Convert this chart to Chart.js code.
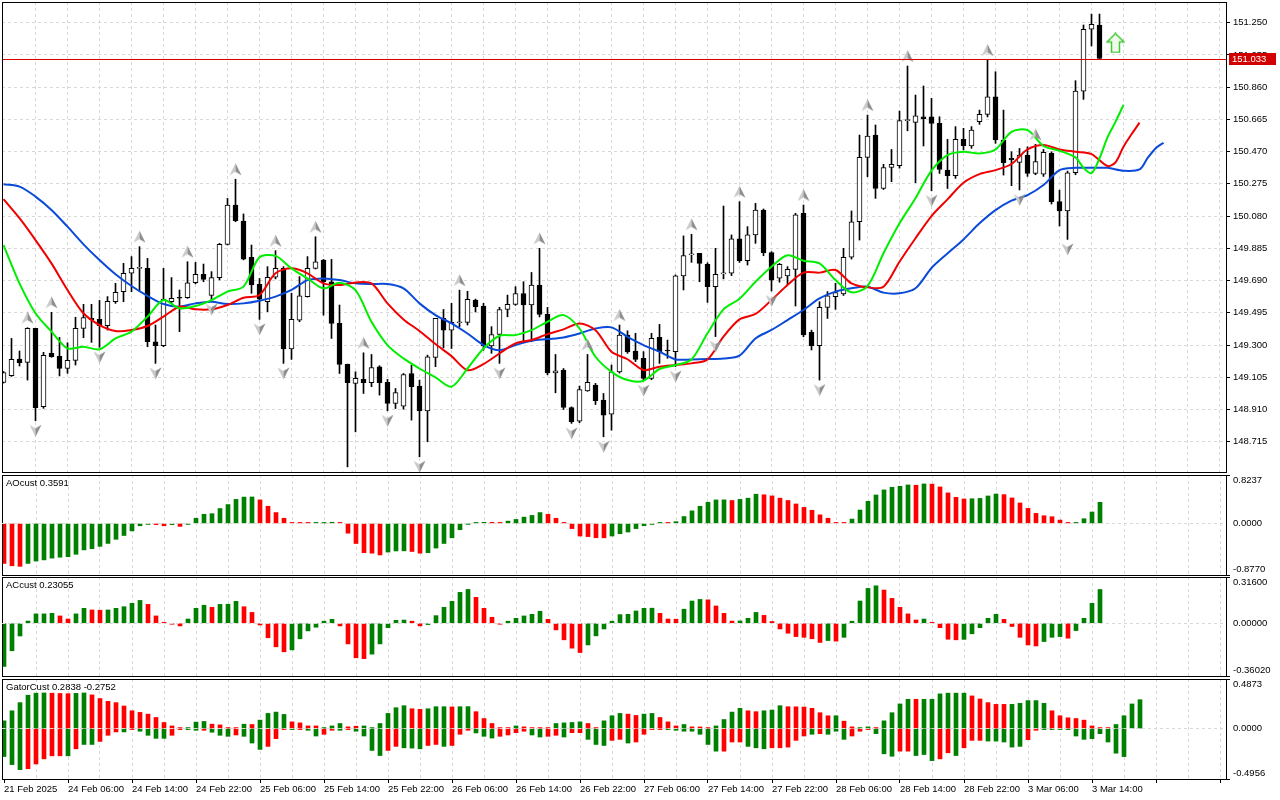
<!DOCTYPE html>
<html>
<head>
<meta charset="utf-8">
<script src="https://cdn.jsdelivr.net/npm/chart.js@4.4.1/dist/chart.umd.min.js"></script>
<style>
html, body { margin: 0; padding: 0; background: #fff; }
#wrap { position: relative; width: 1280px; height: 800px; overflow: hidden; background: #fff; }
#wrap canvas { position: absolute; left: 0; }
</style>
</head>
<body>
<div id="wrap">
  <canvas id="main" width="1280" height="473" style="top:0px"></canvas>
  <canvas id="ao" width="1280" height="103" style="top:473px"></canvas>
  <canvas id="ac" width="1280" height="102" style="top:576px"></canvas>
  <canvas id="gator" width="1280" height="123" style="top:677px"></canvas>
</div>
<script>
// ---- data (H1 bars, index 0 = 21 Feb 22:00) ----
const timeLabels = ['21 Feb 2025', '24 Feb 06:00', '24 Feb 14:00', '24 Feb 22:00', '25 Feb 06:00',
  '25 Feb 14:00', '25 Feb 22:00', '26 Feb 06:00', '26 Feb 14:00', '26 Feb 22:00', '27 Feb 06:00',
  '27 Feb 14:00', '27 Feb 22:00', '28 Feb 06:00', '28 Feb 14:00', '28 Feb 22:00', '3 Mar 06:00', '3 Mar 14:00'];

const priceTicks = [148.715, 148.910, 149.105, 149.300, 149.495, 149.690, 149.885,
  150.080, 150.275, 150.470, 150.665, 150.860, 151.055, 151.250];
const lastPrice = 151.033;

const opens = [149.074,149.115,149.215,149.195,149.401,148.927,149.250,149.232,149.159,149.207,
  149.401,149.461,149.455,149.417,149.562,149.623,149.734,149.764,149.764,149.320,
  149.296,149.562,149.587,149.587,149.677,149.728,149.600,149.708,149.909,150.147,
  150.050,149.830,149.667,149.562,149.710,149.764,149.276,149.451,149.593,149.764,
  149.814,149.683,149.431,149.183,149.068,149.092,149.072,149.168,149.074,148.947,
  148.930,149.128,149.052,148.902,149.225,149.461,149.390,149.435,149.437,149.572,
  149.536,149.294,149.364,149.515,149.546,149.612,149.542,149.663,149.485,149.132,
  149.148,148.922,148.840,149.023,149.058,148.967,148.882,149.138,149.360,149.264,
  149.219,149.098,149.347,149.266,149.260,149.718,149.845,149.855,149.788,149.653,
  149.730,149.734,149.942,149.810,149.966,150.117,149.859,149.704,149.718,149.758,
  150.097,149.377,149.296,149.528,149.592,149.609,149.831,150.046,150.435,150.570,
  150.247,150.374,150.385,150.657,150.647,150.681,150.681,150.641,150.358,150.324,
  150.544,150.504,150.651,150.695,150.802,150.540,150.430,150.405,150.449,150.338,
  150.334,150.459,150.167,150.112,150.342,150.836,151.210,151.236];
const highs = [149.140,149.340,149.264,149.405,149.401,149.256,149.498,149.346,149.314,149.468,
  149.546,149.546,149.570,149.593,149.673,149.794,149.835,149.895,149.824,149.421,
  149.764,149.708,149.633,149.804,149.800,149.790,149.744,149.915,150.187,150.303,
  150.093,149.905,149.703,149.774,149.871,149.774,149.613,149.714,149.835,149.955,
  149.818,149.818,149.542,149.185,149.138,149.253,149.243,149.175,149.092,149.037,
  149.128,149.179,149.088,149.239,149.461,149.515,149.552,149.632,149.625,149.578,
  149.552,149.411,149.528,149.602,149.653,149.683,149.739,149.885,149.528,149.243,
  149.158,148.926,149.052,149.243,149.068,149.007,149.179,149.421,149.386,149.371,
  149.260,149.371,149.425,149.330,149.724,149.960,149.970,149.855,149.798,149.885,
  150.141,149.966,150.167,150.016,150.157,150.123,149.865,149.794,149.774,150.097,
  150.147,149.390,149.562,149.623,149.673,149.885,150.111,150.570,150.691,150.631,
  150.393,150.483,150.715,150.988,150.812,150.867,150.792,150.681,150.544,150.621,
  150.611,150.621,150.721,151.024,150.953,150.721,150.469,150.489,150.499,150.514,
  150.483,150.469,150.237,150.352,150.899,151.236,151.302,151.302];
const lows = [149.070,149.110,149.173,149.088,148.842,148.917,149.226,149.113,149.129,149.179,
  149.344,149.316,149.286,149.391,149.552,149.562,149.623,149.623,149.290,149.189,
  149.290,149.552,149.381,149.582,149.670,149.683,149.575,149.694,149.905,150.046,
  149.815,149.613,149.455,149.502,149.700,149.189,149.213,149.441,149.590,149.760,
  149.481,149.340,149.128,148.563,148.775,149.007,149.048,148.997,148.902,148.916,
  148.912,148.846,148.624,148.715,149.169,149.283,149.279,149.411,149.421,149.500,
  149.269,149.250,149.189,149.471,149.540,149.320,149.320,149.470,149.120,149.011,
  148.910,148.826,148.830,149.020,148.940,148.745,148.785,149.130,149.250,149.200,
  149.085,149.090,149.189,149.220,149.170,149.633,149.800,149.683,149.558,149.351,
  149.700,149.720,149.800,149.784,149.915,149.840,149.627,149.680,149.663,149.536,
  149.350,149.270,149.088,149.461,149.516,149.600,149.820,149.935,150.318,150.187,
  150.241,150.288,150.370,150.596,150.282,150.504,150.233,150.338,150.247,150.308,
  150.480,150.490,150.635,150.680,150.520,150.328,150.264,150.238,150.320,150.330,
  150.320,150.153,150.020,149.939,150.330,150.786,151.109,151.033];
const closes = [149.133,149.213,149.193,149.401,148.921,149.238,149.230,149.159,149.207,149.401,
  149.466,149.453,149.417,149.564,149.619,149.734,149.764,149.766,149.320,149.296,
  149.578,149.582,149.583,149.677,149.728,149.697,149.708,149.909,150.147,150.052,
  149.820,149.663,149.577,149.710,149.764,149.276,149.455,149.597,149.764,149.804,
  149.683,149.431,149.183,149.072,149.098,149.072,149.164,149.072,148.947,149.013,
  149.122,149.048,148.902,149.229,149.461,149.390,149.437,149.437,149.576,149.532,
  149.294,149.364,149.515,149.546,149.612,149.542,149.663,149.485,149.132,149.144,
  148.922,148.836,149.031,149.074,148.963,148.876,149.138,149.360,149.259,149.213,
  149.098,149.340,149.260,149.264,149.718,149.841,149.845,149.794,149.653,149.728,
  149.732,149.942,149.810,149.966,150.117,149.859,149.693,149.788,149.758,150.087,
  149.361,149.296,149.528,149.597,149.617,149.831,150.046,150.435,150.564,150.247,
  150.374,150.393,150.657,150.659,150.687,150.669,150.641,150.362,150.324,150.544,
  150.506,150.600,150.695,150.802,150.540,150.403,150.420,150.449,150.338,150.409,
  150.465,150.167,150.112,150.342,150.836,151.210,151.240,151.033];

// alligator lines, [bar, price]
const jawPts = [[0,150.272],[2,150.258],[4,150.198],[6,150.117],[8,150.016],[10,149.909],[12,149.814],
  [14,149.728],[16,149.657],[18,149.597],[20,149.548],[22,149.532],[24,149.552],[26,149.562],[28,149.548],
  [30,149.552],[32,149.568],[34,149.593],[36,149.633],[38,149.693],[40,149.703],[42,149.693],[44,149.673],
  [46,149.669],[48,149.669],[50,149.643],[52,149.552],[54,149.481],[56,149.431],[58,149.370],[60,149.300],
  [62,149.269],[64,149.300],[66,149.326],[68,149.336],[70,149.346],[72,149.370],[74,149.400],[76,149.407],
  [78,149.350],[80,149.300],[82,149.260],[84,149.213],[86,149.213],[88,149.215],[90,149.219],[92,149.236],
  [94,149.340],[96,149.391],[98,149.451],[100,149.512],[102,149.582],[104,149.623],[106,149.643],
  [108,149.653],[110,149.617],[112,149.613],[114,149.643],[116,149.766],[118,149.854],[120,149.939],
  [122,150.036],[124,150.116],[126,150.173],[128,150.207],[130,150.268],[132,150.358],[134,150.372],
  [136,150.372],[138,150.372],[140,150.354],[142,150.362],[143,150.430],[144,150.489],[145,150.524]];
const teethPts = [[0,150.182],[2,150.067],[4,149.935],[6,149.794],[8,149.633],[10,149.492],[12,149.421],
  [14,149.385],[16,149.391],[18,149.415],[20,149.472],[22,149.532],[24,149.516],[26,149.516],[28,149.542],
  [30,149.586],[32,149.603],[34,149.734],[36,149.764],[38,149.734],[40,149.673],[42,149.663],[44,149.679],
  [46,149.673],[48,149.552],[50,149.455],[52,149.385],[54,149.306],[56,149.233],[58,149.148],[60,149.185],
  [62,149.249],[64,149.310],[66,149.330],[68,149.366],[70,149.395],[72,149.431],[74,149.390],[76,149.259],
  [78,149.214],[80,149.149],[82,149.169],[84,149.179],[86,149.189],[88,149.213],[90,149.351],[92,149.455],
  [94,149.488],[96,149.572],[98,149.663],[100,149.738],[102,149.738],[104,149.754],[106,149.673],
  [108,149.649],[110,149.653],[112,149.804],[114,149.946],[116,150.080],[118,150.181],[120,150.282],
  [122,150.334],[124,150.358],[126,150.395],[128,150.483],[130,150.510],[132,150.483],[134,150.469],
  [136,150.455],[138,150.383],[139,150.405],[140,150.500],[141,150.575],[142,150.645]];
const lipsPts = [[0,149.905],[2,149.673],[4,149.492],[6,149.381],[8,149.280],[10,149.290],[12,149.274],
  [14,149.340],[16,149.381],[18,149.472],[20,149.572],[22,149.522],[24,149.536],[26,149.572],[28,149.623],
  [30,149.653],[32,149.831],[34,149.839],[36,149.764],[38,149.703],[40,149.643],[42,149.677],[44,149.632],
  [46,149.441],[48,149.300],[50,149.219],[52,149.158],[54,149.104],[56,149.048],[58,149.158],[60,149.279],
  [62,149.356],[64,149.360],[66,149.390],[68,149.441],[70,149.481],[72,149.400],[74,149.229],[76,149.138],
  [78,149.088],[80,149.084],[82,149.155],[84,149.179],[86,149.213],[88,149.371],[90,149.516],[92,149.580],
  [94,149.683],[96,149.774],[98,149.843],[100,149.810],[102,149.794],[104,149.693],[106,149.619],
  [108,149.657],[110,149.855],[112,150.036],[114,150.188],[116,150.355],[118,150.449],[120,150.469],
  [122,150.459],[124,150.483],[126,150.590],[128,150.600],[130,150.504],[132,150.475],[134,150.435],
  [135,150.372],[136,150.340],[137,150.430],[138,150.556],[139,150.650],[140,150.752]];

const fractalUp = [3, 6, 17, 23, 29, 34, 39, 45, 57, 67, 73, 77, 86, 92, 100, 108, 113, 123, 129];
const fractalDown = [4, 12, 19, 26, 32, 35, 43, 48, 52, 62, 71, 75, 80, 84, 89, 96, 102, 116, 127, 133];
const signalBar = 139;
const signalPrice = 151.127;

const aoValues = [-0.68,-0.72,-0.73,-0.68,-0.64,-0.62,-0.59,-0.575,-0.565,-0.525,
  -0.45,-0.43,-0.39,-0.34,-0.27,-0.205,-0.127,-0.039,-0.01,-0.02,
  -0.04,-0.02,-0.05,-0.01,0.088,0.156,0.166,0.253,0.321,0.409,
  0.448,0.45,0.40,0.292,0.185,0.088,0.005,0.003,0.002,0.004,
  0.01,0.02,0.003,-0.166,-0.341,-0.497,-0.506,-0.536,-0.487,-0.468,
  -0.466,-0.477,-0.506,-0.497,-0.419,-0.341,-0.244,-0.107,-0.003,0.005,
  0.019,0.018,0.017,0.039,0.068,0.107,0.136,0.185,0.156,0.088,
  0.003,-0.088,-0.214,-0.224,-0.244,-0.245,-0.214,-0.175,-0.146,-0.088,
  -0.039,-0.01,0.003,0.002,0.03,0.117,0.214,0.292,0.36,0.40,
  0.401,0.39,0.409,0.429,0.497,0.487,0.468,0.429,0.39,0.331,
  0.273,0.224,0.146,0.088,0.01,0.003,0.074,0.228,0.376,0.484,
  0.570,0.615,0.632,0.655,0.650,0.672,0.668,0.621,0.519,0.444,
  0.416,0.42,0.425,0.467,0.50,0.49,0.433,0.348,0.256,0.171,
  0.131,0.114,0.057,0.004,0.006,0.08,0.194,0.3591];
const aoDir = 'RRR GGGGGGGGGGGGGGGG RRGRG GGGGGGGG RRRRRRR GGG RRRRRR GGG RR GGGGGGGG RR GGGGG RRRRRRRR GGGGGGG R GGGGGGG R GGG RRRRRRRRRRR GGGGGGGG R G RRRRR GGGG RRRRRRRRR GGGG';

const acValues = [-0.295,-0.188,-0.087,0.015,0.064,0.064,0.068,0.050,0.029,0.064,
  0.102,0.091,0.089,0.091,0.102,0.113,0.136,0.156,0.129,0.050,
  0.005,-0.005,-0.018,0.029,0.102,0.123,0.109,0.129,0.130,0.150,
  0.113,0.074,-0.012,-0.099,-0.161,-0.195,-0.182,-0.106,-0.052,-0.027,
  0.014,0.027,-0.018,-0.141,-0.236,-0.242,-0.211,-0.141,-0.030,0.020,
  0.022,0.014,-0.018,-0.009,0.052,0.109,0.150,0.211,0.231,0.177,
  0.102,0.041,-0.005,0.014,0.034,0.050,0.061,0.082,0.027,-0.045,
  -0.113,-0.170,-0.200,-0.148,-0.086,-0.039,0.014,0.059,0.061,0.084,
  0.102,0.103,0.068,0.029,0.028,0.096,0.152,0.163,0.160,0.118,
  0.068,0.015,0.016,0.034,0.074,0.054,0.012,-0.039,-0.068,-0.091,
  -0.096,-0.106,-0.131,-0.118,-0.122,-0.096,0.014,0.152,0.238,0.256,
  0.227,0.170,0.109,0.064,0.022,0.029,0.005,-0.030,-0.109,-0.113,
  -0.110,-0.072,-0.030,0.034,0.061,0.027,-0.022,-0.096,-0.148,-0.155,
  -0.125,-0.096,-0.091,-0.102,-0.050,0.034,0.136,0.23055];
const acDir = 'GGGGGGG RR GG RR GGGGG RRRRR GGG R GGG RRRRRR GGGGGG RRRR GGGGG RR GGGGGG RRRR GGGGG RRRRR GGGGGGGGG RRR GGG RRRR GGG RRRRRRRR G R GGGGG RRRRR G RRRR GGGGG RRRRR GGG R GGGG';

const gatorUp = [0.076,0.175,0.255,0.328,0.348,0.350,0.348,0.345,0.343,0.346,
  0.350,0.331,0.295,0.268,0.255,0.222,0.175,0.159,0.142,0.109,
  0.060,0.026,0.003,0.010,0.063,0.070,0.043,0.036,0.010,0.009,
  0.043,0.040,0.083,0.149,0.162,0.139,0.066,0.056,0.026,0.026,
  0.005,0.026,0.050,0.017,0.023,0.026,0.006,0.050,0.149,0.205,
  0.225,0.195,0.189,0.195,0.215,0.215,0.213,0.215,0.216,0.166,
  0.099,0.050,0.010,0.009,0.026,0.017,0.003,0.003,0.003,0.050,
  0.056,0.060,0.066,0.050,0.010,0.076,0.126,0.149,0.142,0.129,
  0.142,0.149,0.109,0.066,0.026,0.040,0.017,0.016,0.007,0.026,
  0.089,0.162,0.199,0.175,0.166,0.175,0.182,0.225,0.215,0.214,
  0.212,0.199,0.156,0.126,0.126,0.073,0.017,0.010,0.017,0.010,
  0.076,0.156,0.242,0.288,0.288,0.288,0.288,0.341,0.348,0.348,
  0.348,0.321,0.291,0.255,0.238,0.238,0.238,0.248,0.275,0.275,
  0.248,0.175,0.126,0.106,0.099,0.083,0.026,0.010,0.003,0.040,
  0.126,0.242,0.2838];
const gatorUpDir = 'GGGGGG RRR GG RRRRRRRRRRRR GGG RRRR G R GGGG RRRR GGG RR GGGGGG RR GGG R GG RRRRR G RRRR GGGG RR GGG RR GG RRR G RRR GGGG RR GGG RRRRRR G RR GG R GGGG R GGGGGG RRRRR GGGGG RRRRRRRR GGGG';

const gatorDown = [-0.275,-0.354,-0.404,-0.394,-0.348,-0.298,-0.268,-0.268,-0.268,-0.199,
  -0.156,-0.156,-0.126,-0.066,-0.033,-0.033,-0.007,-0.026,-0.066,-0.096,
  -0.096,-0.066,-0.003,-0.010,-0.017,-0.017,-0.036,-0.066,-0.076,-0.063,
  -0.076,-0.142,-0.205,-0.175,-0.099,-0.010,-0.010,-0.004,-0.017,-0.073,
  -0.056,-0.017,-0.017,-0.007,-0.026,-0.073,-0.215,-0.265,-0.215,-0.175,
  -0.189,-0.192,-0.199,-0.166,-0.156,-0.175,-0.166,-0.056,-0.017,-0.043,
  -0.076,-0.093,-0.076,-0.063,-0.040,-0.026,-0.063,-0.083,-0.076,-0.066,
  -0.083,-0.040,-0.040,-0.106,-0.156,-0.166,-0.116,-0.106,-0.142,-0.132,
  -0.056,-0.010,-0.010,-0.010,-0.017,-0.026,-0.026,-0.056,-0.156,-0.222,
  -0.222,-0.132,-0.132,-0.175,-0.189,-0.199,-0.189,-0.189,-0.182,-0.116,
  -0.073,-0.056,-0.050,-0.056,-0.026,-0.106,-0.073,-0.026,-0.010,-0.050,
  -0.248,-0.272,-0.222,-0.222,-0.265,-0.255,-0.315,-0.298,-0.238,-0.265,
  -0.189,-0.116,-0.116,-0.123,-0.123,-0.132,-0.182,-0.175,-0.109,-0.017,
  -0.007,-0.007,-0.007,-0.007,-0.073,-0.106,-0.099,-0.050,-0.132,-0.242,
  -0.2752];
const gatorDownDir = 'GGG RRRRR G R GG RRR G R GGGG RR GG R GGG R GGG RRR G R GG RR G R GGGG RR GGG RR G RRR GGG RRRR GG RR G RR GGG RR G RRRR GGGGGGG RRR GGG RRRRR G R GGG RRR GGG RR GGG RR G RRR GGGGG RR GGGGGGGGGGG';

// ---- look ----
Chart.defaults.font.family = '"Liberation Sans", Arial, sans-serif';
Chart.defaults.font.size = 9.5;
Chart.defaults.color = '#000';

const GRID = '#d9d9d9';
const UP_COL = '#008000';
const DN_COL = '#ff0000';
const X_MIN = -0.1875;
const X_MAX = 152.8125;
// main pane: chart area y 2..472, 151.250 sits at y 22.7, 165.3 px per unit
const PRICE_MIN = 148.532;
const PRICE_MAX = 151.375;

function dirColors(str) {
  return str.replace(/ /g, '').split('').map(c => c === 'G' ? UP_COL : DN_COL);
}

// keep Chart.js from reserving room for half-labels at the pane edges
function noEdgePadding(s) {
  s.paddingTop = 0;
  s.paddingBottom = 0;
  s.paddingLeft = 0;
  s.paddingRight = 0;
}

function xScale(showLabels, shift) {
  return {
    type: 'linear',
    min: X_MIN - shift,
    max: X_MAX - shift,
    offset: false,
    grid: {
      offset: false,
      color: c => (c.tick && c.tick.value > 0) ? GRID : 'transparent',
      drawTicks: showLabels,
      tickLength: 4,
      tickColor: c => (c.tick && c.tick.value % 8 === 0) ? '#000' : 'transparent',
      tickBorderDash: []
    },
    border: { display: false, dash: [3, 3] },
    ticks: {
      display: showLabels,
      autoSkip: false,
      maxRotation: 0,
      align: 'start',
      padding: 1,
      callback: v => v % 8 === 0 ? (timeLabels[v / 8] || '') : ''
    },
    afterBuildTicks: s => {
      s.ticks = [];
      for (let v = 0; v <= 152; v += 4) s.ticks.push({ value: v });
    },
    afterFit: s => {
      s.height = showLabels ? 21 : 0;
      noEdgePadding(s);
    }
  };
}

// border round each pane, pane caption, bid line and bid label
const paneDeco = {
  id: 'paneDeco',
  afterDatasetsDraw(chart, args, o) {
    const ctx = chart.ctx;
    const a = chart.chartArea;
    ctx.save();
    if (o.lastPrice != null) {
      const y = Math.round(chart.scales.y.getPixelForValue(o.lastPrice)) + 0.5;
      ctx.strokeStyle = '#e00000';
      ctx.lineWidth = 1;
      ctx.beginPath();
      ctx.moveTo(a.left, y);
      ctx.lineTo(a.right, y);
      ctx.stroke();
    }
    ctx.strokeStyle = '#000';
    ctx.lineWidth = 1;
    ctx.strokeRect(Math.round(a.left) + 0.5, Math.round(a.top) + 0.5,
      Math.round(a.right - a.left), Math.round(a.bottom - a.top));
    if (o.title) {
      ctx.fillStyle = '#000';
      ctx.font = '9.5px "Liberation Sans", Arial, sans-serif';
      ctx.textBaseline = 'middle';
      ctx.fillText(o.title, a.left + 4, a.top + 8);
    }
    ctx.restore();
  },
  afterDraw(chart, args, o) {
    if (o.lastPrice == null) return;
    const ctx = chart.ctx;
    const y = Math.round(chart.scales.y.getPixelForValue(o.lastPrice));
    const x = chart.chartArea.right + 3;
    ctx.save();
    ctx.fillStyle = '#d20000';
    ctx.fillRect(x, y - 6, 47, 12);
    ctx.fillStyle = '#fff';
    ctx.font = '9.5px "Liberation Sans", Arial, sans-serif';
    ctx.textBaseline = 'middle';
    ctx.fillText(o.lastPrice.toFixed(3), x + 3, y);
    ctx.restore();
  }
};

function makeFractal(up) {
  const c = document.createElement('canvas');
  c.width = 13;
  c.height = 33;
  const g = c.getContext('2d');
  if (!up) { g.translate(0, 33); g.scale(1, -1); }
  g.fillStyle = '#cbcbcb';
  g.beginPath(); g.moveTo(6.5, 0.5); g.lineTo(0.5, 12.5); g.lineTo(6.5, 9); g.closePath(); g.fill();
  g.fillStyle = '#8e8e8e';
  g.beginPath(); g.moveTo(6.5, 0.5); g.lineTo(12.5, 12.5); g.lineTo(6.5, 9); g.closePath(); g.fill();
  return c;
}

function makeSignal() {
  const c = document.createElement('canvas');
  c.width = 19;
  c.height = 21;
  const g = c.getContext('2d');
  g.beginPath();
  g.moveTo(9.5, 1); g.lineTo(18, 9.5); g.lineTo(13.5, 9.5); g.lineTo(13.5, 20);
  g.lineTo(5.5, 20); g.lineTo(5.5, 9.5); g.lineTo(1, 9.5); g.closePath();
  g.fillStyle = '#effbe8';
  g.fill();
  g.strokeStyle = '#46c83a';
  g.lineWidth = 1.5;
  g.stroke();
  return c;
}

const pts = arr => arr.map(p => ({ x: p[0], y: p[1] }));
const bars = opens.map((o, i) => i);

// ---- main pane ----
new Chart(document.getElementById('main'), {
  type: 'bar',
  data: {
    datasets: [
      { type: 'line', data: fractalUp.map(i => ({ x: i, y: highs[i] })), showLine: false,
        pointStyle: makeFractal(true), pointRadius: 3, order: 0 },
      { type: 'line', data: fractalDown.map(i => ({ x: i, y: lows[i] })), showLine: false,
        pointStyle: makeFractal(false), pointRadius: 3, order: 0 },
      { type: 'line', data: [{ x: signalBar, y: signalPrice }], showLine: false,
        pointStyle: makeSignal(), pointRadius: 3, order: 0 },
      { type: 'line', data: pts(lipsPts), borderColor: '#00ee00', borderWidth: 2,
        pointRadius: 0, tension: 0.3, order: 1 },
      { type: 'line', data: pts(teethPts), borderColor: '#f00000', borderWidth: 2,
        pointRadius: 0, tension: 0.3, order: 2 },
      { type: 'line', data: pts(jawPts), borderColor: '#0a4ad8', borderWidth: 2,
        pointRadius: 0, tension: 0.3, order: 3 },
      { type: 'bar', data: bars.map(i => ({ x: i, y: [opens[i], closes[i]] })),
        backgroundColor: bars.map(i => closes[i] >= opens[i] ? '#ffffff' : '#000000'),
        borderColor: '#000', borderWidth: 1, borderSkipped: false, barThickness: 5,
        grouped: false, minBarLength: 1, order: 4 },
      { type: 'bar', data: bars.map(i => ({ x: i, y: [lows[i], highs[i]] })),
        backgroundColor: '#000', borderWidth: 0, barThickness: 1,
        grouped: false, minBarLength: 1, order: 5 }
    ]
  },
  options: {
    responsive: false,
    devicePixelRatio: 1,
    animation: false,
    events: [],
    layout: { autoPadding: false, padding: { left: 2, right: 0, top: 2, bottom: 1 } },
    plugins: {
      legend: { display: false },
      tooltip: { enabled: false },
      paneDeco: { lastPrice: lastPrice }
    },
    scales: {
      x: xScale(false, 0),
      y: {
        position: 'right',
        min: PRICE_MIN,
        max: PRICE_MAX,
        grid: { color: GRID, tickLength: 4, tickColor: '#000', tickBorderDash: [] },
        border: { display: false, dash: [3, 3] },
        ticks: { padding: 3, autoSkip: false, callback: v => v.toFixed(3) },
        afterBuildTicks: s => { s.ticks = priceTicks.map(v => ({ value: v })); },
        afterFit: s => { s.width = 54; noEdgePadding(s); }
      }
    }
  },
  plugins: [paneDeco]
});

// ---- indicator panes ----
// the max/min labels sit just inside the pane, with a tick mark at the pane edge
function histPane(id, title, yMin, yMax, yLabels, sets, showX, padTop, padBottom) {
  const labels = ['', yLabels[0], yLabels[1], yLabels[2], ''];
  return new Chart(document.getElementById(id), {
    type: 'bar',
    data: { datasets: sets },
    options: {
      responsive: false,
      devicePixelRatio: 1,
      animation: false,
      events: [],
      layout: { autoPadding: false, padding: { left: 2, right: 0, top: padTop, bottom: padBottom } },
      plugins: {
        legend: { display: false },
        tooltip: { enabled: false },
        paneDeco: { title: title }
      },
      scales: {
        x: xScale(showX, 0.0625),
        y: {
          position: 'right',
          min: yMin,
          max: yMax,
          grid: {
            z: 1,
            color: c => (c.tick && c.tick.value === 0) ? GRID : 'transparent',
            tickLength: 4,
            tickColor: c => (c.index === 0 || c.index === 4) ? '#000' : 'transparent',
            tickBorderDash: []
          },
          border: { display: false, dash: [3, 3] },
          ticks: { padding: 3, autoSkip: false, callback: (v, i) => labels[i] },
          afterBuildTicks: s => {
            const r = yMax - yMin;
            s.ticks = [{ value: yMax }, { value: yMax - 0.055 * r }, { value: 0 },
              { value: yMin + 0.06 * r }, { value: yMin }];
          },
          afterFit: s => { s.width = 54; noEdgePadding(s); }
        }
      }
    },
    plugins: [paneDeco]
  });
}

function histSet(values, dir) {
  return {
    data: values.map((v, i) => ({ x: i, y: v })),
    backgroundColor: dirColors(dir),
    borderWidth: 0,
    barThickness: 4,
    grouped: false,
    minBarLength: 1
  };
}

histPane('ao', 'AOcust 0.3591', -0.8770, 0.8237, ['0.8237', '0.0000', '-0.8770'],
  [histSet(aoValues, aoDir)], false, 2, 1);

histPane('ac', 'ACcust 0.23055', -0.36020, 0.31600, ['0.31600', '0.00000', '-0.36020'],
  [histSet(acValues, acDir)], false, 1, 2);

histPane('gator', 'GatorCust 0.2838 -0.2752', -0.4956, 0.4873, ['0.4873', '0.0000', '-0.4956'],
  [histSet(gatorUp, gatorUpDir), histSet(gatorDown, gatorDownDir)], true, 2, 0);
</script>
</body>
</html>
